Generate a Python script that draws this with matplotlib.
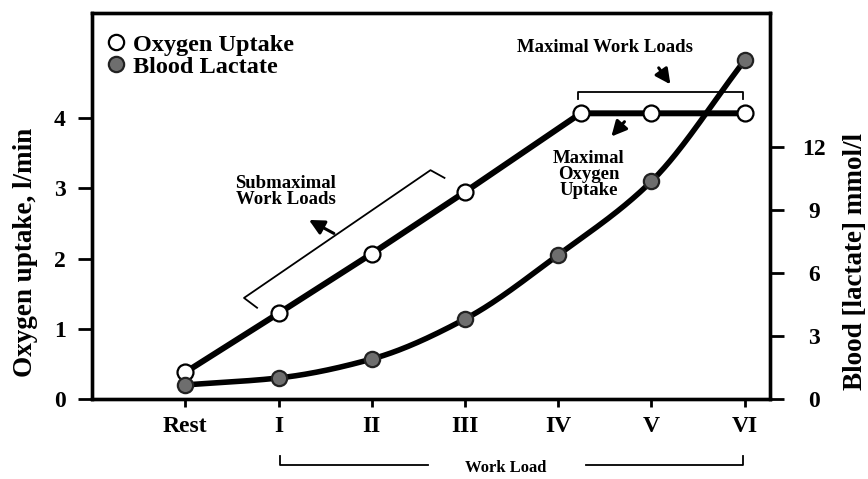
import numpy as np
import matplotlib
matplotlib.use("Agg")
import matplotlib.pyplot as plt
from matplotlib.lines import Line2D
from matplotlib.transforms import blended_transform_factory

plt.rcParams['font.family'] = ['Liberation Serif', 'DejaVu Serif']
plt.rcParams['font.weight'] = 'bold'

# Work loads and measured values
loads = ["Rest", "I", "II", "III", "IV", "V", "VI"]
load_pos = [0, 1, 2, 3, 4, 5, 6]
o2_pos = [0, 1, 2, 3, 4.24, 5, 6]
oxygen_uptake = [0.38, 1.22, 2.07, 2.95, 4.07, 4.07, 4.07]      # l/min
blood_lactate = [0.67, 1.0, 1.9, 3.8, 6.85, 10.35, 16.1]        # mmol/l
left_ticks = [0, 1, 2, 3, 4]
right_ticks = [0, 3, 6, 9, 12]


def pchip(x, y, xs):
    """Monotone cubic (Fritsch-Carlson) curve through the points."""
    x = np.asarray(x, float)
    y = np.asarray(y, float)
    h = np.diff(x)
    d = np.diff(y) / h
    m = np.zeros_like(y)
    for k in range(1, len(x) - 1):
        if d[k - 1] * d[k] > 0:
            w1 = 2 * h[k] + h[k - 1]
            w2 = h[k] + 2 * h[k - 1]
            m[k] = (w1 + w2) / (w1 / d[k - 1] + w2 / d[k])
    m[0] = d[0]
    m[-1] = d[-1]
    idx = np.clip(np.searchsorted(x, xs) - 1, 0, len(x) - 2)
    t = (xs - x[idx]) / h[idx]
    h00 = 2 * t**3 - 3 * t**2 + 1
    h10 = t**3 - 2 * t**2 + t
    h01 = -2 * t**3 + 3 * t**2
    h11 = t**3 - t**2
    return (h00 * y[idx] + h10 * h[idx] * m[idx] +
            h01 * y[idx + 1] + h11 * h[idx] * m[idx + 1])


fig = plt.figure(figsize=(8.68, 4.79), dpi=100)
ax = fig.add_axes([0.106, 0.167, 0.781, 0.806])
ax2 = ax.twinx()

ax.set_xlim(-1.0, 6.27)
ax.set_ylim(0, 5.5)
ax2.set_ylim(0, 18.35)

# oxygen uptake
ax.plot(o2_pos, oxygen_uptake, color='black', lw=4.3, zorder=3,
        solid_capstyle='round', solid_joinstyle='round')
ax.plot(o2_pos, oxygen_uptake, ls='none', marker='o', ms=11.5,
        mfc='white', mec='black', mew=1.6, zorder=4)

# blood lactate
xs = np.linspace(load_pos[0], load_pos[-1], 300)
ax2.plot(xs, pchip(load_pos, blood_lactate, xs), color='black', lw=4.0,
         zorder=3, solid_capstyle='round')
ax2.plot(load_pos, blood_lactate, ls='none', marker='o', ms=11,
         mfc='#6e6e6e', mec='#222222', mew=1.6, zorder=4)

# axes styling
for a in (ax, ax2):
    for s in a.spines.values():
        s.set_linewidth(2.4)
ax.set_xticks(load_pos)
ax.set_xticklabels(loads, fontsize=17, fontweight='bold')
ax.set_yticks(left_ticks)
ax.set_yticklabels([str(v) for v in left_ticks], fontsize=17, fontweight='bold')
ax2.set_yticks(right_ticks)
ax2.set_yticklabels([str(v) for v in right_ticks], fontsize=17, fontweight='bold')
for lab in ax2.get_yticklabels():
    lab.set_horizontalalignment('center')
ax.tick_params(axis='x', direction='out', length=6, width=2, pad=6)
ax.tick_params(axis='y', direction='out', length=10, width=2, pad=9)
ax2.tick_params(axis='y', direction='out', length=10, width=2, pad=22)

ax.set_ylabel("Oxygen uptake, l/min", fontsize=19.5, fontweight='bold')
ax.yaxis.set_label_coords(-0.080, 0.38)
ax2.set_ylabel("Blood [lactate] mmol/l", fontsize=19.5, fontweight='bold')
ax2.yaxis.set_label_coords(1.108, 0.355)

# legend
handles = [
    Line2D([], [], ls='none', marker='o', ms=11, mfc='white', mec='black', mew=1.6),
    Line2D([], [], ls='none', marker='o', ms=11, mfc='#6e6e6e', mec='#222222', mew=1.6),
]
ax.legend(handles, ["Oxygen Uptake", "Blood Lactate"], loc='upper left',
          frameon=False, prop={'family': 'Liberation Serif', 'weight': 'bold', 'size': 17.5},
          handletextpad=0.2, handlelength=1.0, labelspacing=0.0,
          borderaxespad=0.3, bbox_to_anchor=(-0.008, 0.99))

thin = dict(color='black', lw=1.3)
arrow = dict(arrowstyle='-|>,head_length=0.9,head_width=0.45', color='black', lw=2.2)

# maximal work loads bracket
ax.plot([4.21, 4.21, 5.98, 5.98], [4.27, 4.38, 4.38, 4.27], **thin, zorder=2)
ax.text(4.50, 5.01, "Maximal Work Loads", ha='center', va='center',
        fontsize=13.5, fontweight='bold')
ax.annotate("", xy=(5.22, 4.45), xytext=(5.06, 4.75), arrowprops=arrow)

# maximal oxygen uptake
ax.annotate("", xy=(4.55, 3.71), xytext=(4.73, 3.98), arrowprops=arrow)
ax.text(4.33, 3.2, "Maximal\nOxygen\nUptake", ha='center', va='center',
        fontsize=13.5, fontweight='bold', linespacing=0.9)

# submaximal work loads bracket
ax.plot([0.77, 0.63, 2.63, 2.78], [1.30, 1.44, 3.26, 3.15], **thin, zorder=2)
ax.annotate("", xy=(1.30, 2.57), xytext=(1.62, 2.34), arrowprops=arrow)
ax.text(1.08, 2.96, "Submaximal\nWork Loads", ha='center', va='center',
        fontsize=13.5, fontweight='bold', linespacing=0.9)

# work load bracket below the axis
tr = blended_transform_factory(ax.transData, fig.transFigure)
ax.plot([1.02, 1.02, 2.6], [0.048, 0.030, 0.030], transform=tr, clip_on=False, **thin)
ax.plot([4.3, 5.98, 5.98], [0.030, 0.030, 0.048], transform=tr, clip_on=False, **thin)
ax.text(3.44, 0.024, "Work Load", transform=tr, ha='center', va='center',
        fontsize=12, fontweight='bold')

fig.savefig("out.png", dpi=100)
